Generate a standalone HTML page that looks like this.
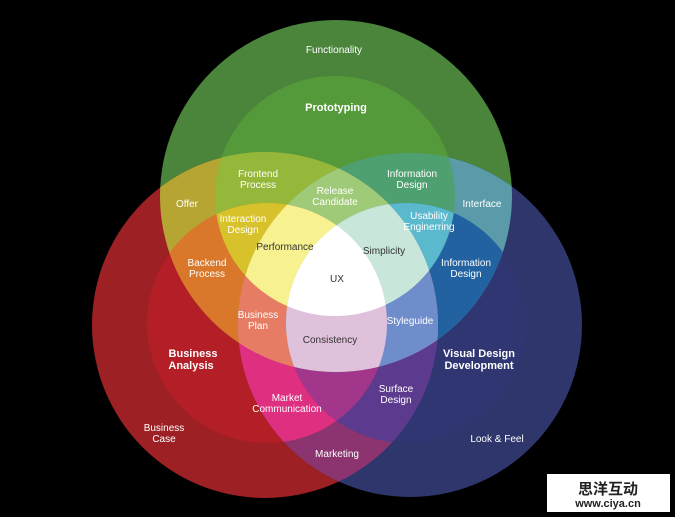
<!DOCTYPE html>
<html><head><meta charset="utf-8"><style>
html,body{margin:0;padding:0;background:#000;}
svg{display:block;}
text{font-family:"Liberation Sans",Arial,sans-serif;font-size:10px;fill:#fff;text-anchor:middle;}
.d{fill:#333;}
.b{font-weight:bold;font-size:11px;}
</style></head><body>
<svg width="675" height="517" viewBox="0 0 675 517" xmlns="http://www.w3.org/2000/svg">
<defs>
<clipPath id="g1"><circle cx="336" cy="196" r="176"/></clipPath>
<clipPath id="g2"><circle cx="335" cy="196" r="120"/></clipPath>
<clipPath id="r1"><circle cx="265" cy="325" r="173"/></clipPath>
<clipPath id="r2"><circle cx="267" cy="323" r="120"/></clipPath>
<clipPath id="b1"><circle cx="410" cy="325" r="172"/></clipPath>
<clipPath id="b2"><circle cx="406" cy="323" r="120"/></clipPath>
</defs>
<rect width="675" height="517" fill="#000"/>
<!-- sum 1 -->
<g clip-path="url(#g1)"><rect width="675" height="517" fill="#4b853b"/></g>
<g clip-path="url(#r1)"><rect width="675" height="517" fill="#9d2024"/></g>
<g clip-path="url(#b1)"><rect width="675" height="517" fill="#2e366c"/></g>
<!-- sum 2 -->
<g clip-path="url(#g2)"><rect width="675" height="517" fill="#559a3a"/></g>
<g clip-path="url(#r2)"><rect width="675" height="517" fill="#b41e26"/></g>
<g clip-path="url(#b2)"><rect width="675" height="517" fill="#2f3672"/></g>
<g clip-path="url(#g1)"><g clip-path="url(#r1)"><rect width="675" height="517" fill="#b6a533"/></g></g>
<g clip-path="url(#g1)"><g clip-path="url(#b1)"><rect width="675" height="517" fill="#5a9aa9"/></g></g>
<g clip-path="url(#r1)"><g clip-path="url(#b1)"><rect width="675" height="517" fill="#8b3470"/></g></g>
<!-- sum 3 -->
<g clip-path="url(#g2)"><g clip-path="url(#r1)"><rect width="675" height="517" fill="#95b73a"/></g></g>
<g clip-path="url(#g1)"><g clip-path="url(#r2)"><rect width="675" height="517" fill="#d9782b"/></g></g>
<g clip-path="url(#g2)"><g clip-path="url(#b1)"><rect width="675" height="517" fill="#4fa070"/></g></g>
<g clip-path="url(#g1)"><g clip-path="url(#b2)"><rect width="675" height="517" fill="#2362a1"/></g></g>
<g clip-path="url(#r2)"><g clip-path="url(#b1)"><rect width="675" height="517" fill="#de2f80"/></g></g>
<g clip-path="url(#r1)"><g clip-path="url(#b2)"><rect width="675" height="517" fill="#5c3a8d"/></g></g>
<g clip-path="url(#g1)"><g clip-path="url(#r1)"><g clip-path="url(#b1)"><rect width="675" height="517" fill="#a9b070"/></g></g></g>
<!-- sum 4 -->
<g clip-path="url(#g2)"><g clip-path="url(#r2)"><rect width="675" height="517" fill="#d8c22c"/></g></g>
<g clip-path="url(#g2)"><g clip-path="url(#b2)"><rect width="675" height="517" fill="#5bb9cd"/></g></g>
<g clip-path="url(#r2)"><g clip-path="url(#b2)"><rect width="675" height="517" fill="#a1368b"/></g></g>
<g clip-path="url(#g2)"><g clip-path="url(#r1)"><g clip-path="url(#b1)"><rect width="675" height="517" fill="#9fcb78"/></g></g></g>
<g clip-path="url(#g1)"><g clip-path="url(#r2)"><g clip-path="url(#b1)"><rect width="675" height="517" fill="#e67c63"/></g></g></g>
<g clip-path="url(#g1)"><g clip-path="url(#r1)"><g clip-path="url(#b2)"><rect width="675" height="517" fill="#6f8dcb"/></g></g></g>
<!-- sum 5 -->
<g clip-path="url(#g2)"><g clip-path="url(#r2)"><g clip-path="url(#b1)"><rect width="675" height="517" fill="#f7f28f"/></g></g></g>
<g clip-path="url(#g2)"><g clip-path="url(#r1)"><g clip-path="url(#b2)"><rect width="675" height="517" fill="#c8e6da"/></g></g></g>
<g clip-path="url(#g1)"><g clip-path="url(#r2)"><g clip-path="url(#b2)"><rect width="675" height="517" fill="#e0c1dc"/></g></g></g>
<!-- sum 6 -->
<g clip-path="url(#g2)"><g clip-path="url(#r2)"><g clip-path="url(#b2)"><rect width="675" height="517" fill="#ffffff"/></g></g></g>

<text x="334" y="53">Functionality</text>
<text x="336" y="111" class="b">Prototyping</text>
<text x="258" y="177">Frontend</text><text x="258" y="188">Process</text>
<text x="335" y="194">Release</text><text x="335" y="205">Candidate</text>
<text x="412" y="177">Information</text><text x="412" y="188">Design</text>
<text x="187" y="207">Offer</text>
<text x="482" y="207">Interface</text>
<text x="243" y="222">Interaction</text><text x="243" y="233">Design</text>
<text x="429" y="219">Usability</text><text x="429" y="230">Enginerring</text>
<text x="285" y="250" class="d">Performance</text>
<text x="384" y="254" class="d">Simplicity</text>
<text x="207" y="266">Backend</text><text x="207" y="277">Process</text>
<text x="466" y="266">Information</text><text x="466" y="277">Design</text>
<text x="337" y="282" class="d">UX</text>
<text x="258" y="318">Business</text><text x="258" y="329">Plan</text>
<text x="410" y="324">Styleguide</text>
<text x="330" y="343" class="d">Consistency</text>
<text x="193" y="357" class="b">Business</text><text x="191" y="369" class="b">Analysis</text>
<text x="479" y="357" class="b">Visual Design</text><text x="479" y="369" class="b">Development</text>
<text x="396" y="392">Surface</text><text x="396" y="403">Design</text>
<text x="287" y="401">Market</text><text x="287" y="412">Communication</text>
<text x="164" y="431">Business</text><text x="164" y="442">Case</text>
<text x="497" y="442">Look &amp; Feel</text>
<text x="337" y="457">Marketing</text>

<rect x="547" y="474" width="123" height="38" fill="#fff"/>
<text x="608" y="494" style="fill:#222;font-size:15px;font-weight:bold;font-family:'Liberation Sans','Noto Sans CJK SC',sans-serif">思洋互动</text>
<text x="608" y="507" style="fill:#222;font-size:11px;font-weight:bold">www.ciya.cn</text>
</svg>
</body></html>
